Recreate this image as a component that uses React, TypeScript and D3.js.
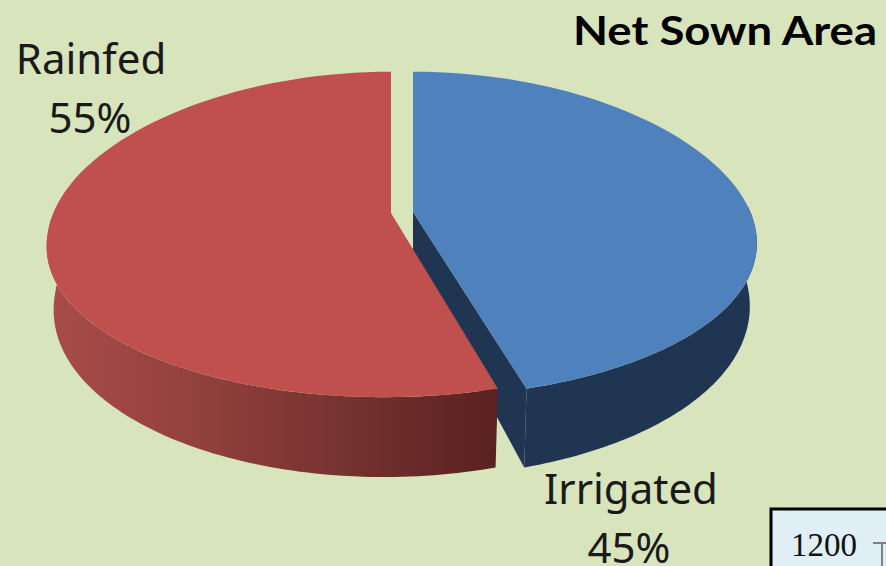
import * as d3 from 'd3';
import React from 'react';

const categories = ['Irrigated', 'Rainfed'];
const shares = [45, 55];
const title = 'Net Sown Area';
const insetTick = '1200';

const width = 886;
const height = 566;
const radius = 343;
const apexY = 212;
const depth = 62;
const apexX: any = { Irrigated: 413, Rainfed: 391 };
const skew: any = { Irrigated: 0, Rainfed: 7 };
const topColor: any = { Irrigated: '#4f81bd', Rainfed: '#c0504d' };

// tilted disc, the front is nearer so it is drawn bigger than the back
const project = (angle: number, name: string, bottom: boolean) => {
	const u = Math.sin(angle);
	const v = -Math.cos(angle);
	const a = bottom ? 175 : 159.6;
	const r = bottom ? radius - 7 : radius;
	const sag = 20 * (1 - v * v);
	const y = apexY + sag + (bottom ? depth : 0) + (a * v) / (1 - 0.138 * v);
	const x = apexX[name] + (r * u) / (1 - 0.07 * v) - skew[name] * Math.max(v, 0);
	return [x, y] as [number, number];
};

const arcAngles = (from: number, to: number) => {
	const n = 90;
	return d3.range(n + 1).map(i => from + ((to - from) * i) / n);
};

const line = d3.line();

const App = () => {
	const arcs = d3
		.pie<number>()
		.sort(null)
		.value(d => d)(shares);
	const blue = arcs[0];
	const red = arcs[1];
	const bx = apexX.Irrigated;
	const rx = apexX.Rainfed;

	const blueTop = [[bx, apexY] as [number, number], ...arcAngles(blue.startAngle, blue.endAngle).map(a => project(a, 'Irrigated', false))];
	const redTop = [[rx, apexY + 1] as [number, number], ...arcAngles(red.startAngle, red.endAngle).map(a => project(a, 'Rainfed', false))];

	const side = (from: number, to: number, name: string) => [
		...arcAngles(from, to).map(a => project(a, name, false)),
		...arcAngles(from, to)
			.reverse()
			.map(a => project(a, name, true)),
	];
	const blueSide = side(Math.PI * 0.45, blue.endAngle, 'Irrigated');
	const redSide = side(red.startAngle, Math.PI * 1.53, 'Rainfed');
	const blueTip = project(blue.endAngle, 'Irrigated', true);
	const blueWall = [
		[bx, apexY] as [number, number],
		project(blue.endAngle, 'Irrigated', false),
		blueTip,
		[bx, apexY + depth - 12] as [number, number],
	];

	return (
		<svg
			width={width}
			height={height}
			viewBox={`0 0 ${width} ${height}`}
			style={{ position: 'absolute', left: 0, top: 0, display: 'block' }}
		>
			<defs>
				<linearGradient id="redSide" gradientUnits="userSpaceOnUse" x1={46} x2={497} y1={0} y2={0}>
					<stop offset="0" stopColor="#a84c49" />
					<stop offset="0.3" stopColor="#95423f" />
					<stop offset="0.65" stopColor="#773330" />
					<stop offset="1" stopColor="#592120" />
				</linearGradient>
			</defs>
			<rect width={width} height={height} fill="#d8e4bc" />

			<path d={line(blueWall) + 'Z'} fill="#1f3552" />
			<path d={line(blueSide) + 'Z'} fill="#1f3552" />
			<path d={line(blueTop) + 'Z'} fill={topColor.Irrigated} />
			<path d={line(redSide) + 'Z'} fill="url(#redSide)" />
			<path d={line(redTop) + 'Z'} fill={topColor.Rainfed} />

			<g fontFamily="'Noto Sans', sans-serif" fontSize={42} fill="#1a1a1a" textAnchor="middle">
				<text x={91} y={74}>{categories[1]}</text>
				<text x={90} y={133}>{shares[1]}%</text>
				<text x={631} y={504}>{categories[0]}</text>
				<text x={629} y={563}>{shares[0]}%</text>
			</g>
			<text x={877} y={45} textAnchor="end" fontFamily="Lato, sans-serif" fontWeight={700} fontSize={40} textLength={304} lengthAdjust="spacingAndGlyphs" fill="#000">
				{title}
			</text>

			<rect x={771} y={509} width={120} height={70} fill="#e0eef6" stroke="#000" strokeWidth={3} />
			<text x={791} y={556} fontFamily="'Liberation Serif', serif" fontSize={33} fill="#111">{insetTick}</text>
			<path d="M873,543H886M882,543V566" fill="none" stroke="#808080" strokeWidth={2} />
		</svg>
	);
};

export default App;
